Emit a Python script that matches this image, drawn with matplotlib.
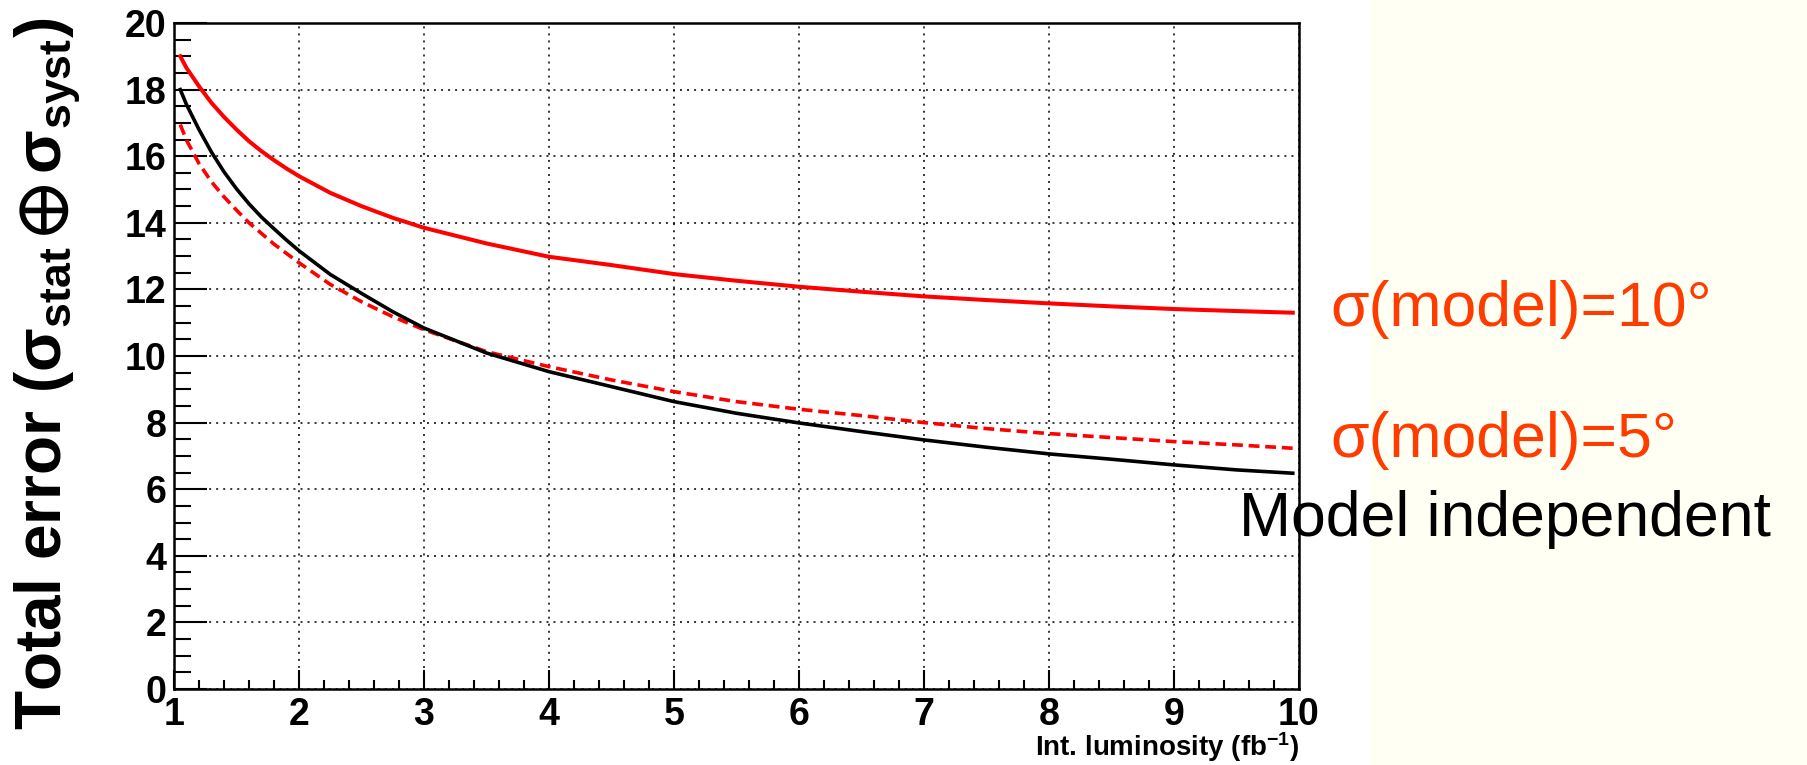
import matplotlib
matplotlib.use("Agg")
import matplotlib.pyplot as plt
from matplotlib.patches import Rectangle
from matplotlib.ticker import MultipleLocator

plt.rcParams['mathtext.fontset'] = 'custom'
plt.rcParams['mathtext.rm'] = 'Liberation Sans'
plt.rcParams['mathtext.bf'] = 'Liberation Sans:bold'
plt.rcParams['mathtext.it'] = 'Liberation Sans:italic'
plt.rcParams['mathtext.fallback'] = 'stixsans'

# ---- data ----
lumi = [1.05, 1.1, 1.2, 1.3, 1.4, 1.5, 1.6, 1.7, 1.8, 1.9, 2.0, 2.25, 2.5, 2.75, 3.0,
        3.5, 4.0, 4.5, 5.0, 5.5, 6.0, 6.5, 7.0, 7.5, 8.0, 8.5, 9.0, 9.5, 9.95]
err_model10 = [19.0, 18.65, 18.1, 17.6, 17.18, 16.8, 16.45, 16.15, 15.88, 15.63, 15.4,
               14.9, 14.5, 14.15, 13.85,
               13.38, 12.98, 12.73, 12.46, 12.26, 12.08, 11.93, 11.79, 11.68, 11.58,
               11.49, 11.41, 11.35, 11.30]
err_model5 = [16.95, 16.48, 15.78, 15.23, 14.78, 14.38, 14.0, 13.68, 13.36, 13.08, 12.8,
              12.15, 11.63, 11.18, 10.79,
              10.13, 9.68, 9.28, 8.93, 8.63, 8.40, 8.21, 8.0, 7.82, 7.67,
              7.55, 7.43, 7.33, 7.23]
err_indep = [18.0, 17.55, 16.8, 16.12, 15.53, 15.02, 14.57, 14.17, 13.82, 13.48, 13.16,
             12.45, 11.88, 11.33, 10.84,
             10.09, 9.53, 9.08, 8.63, 8.28, 7.99, 7.73, 7.48, 7.26, 7.06,
             6.90, 6.73, 6.58, 6.48]
x_ticks = [1, 2, 3, 4, 5, 6, 7, 8, 9, 10]
y_ticks = [0, 2, 4, 6, 8, 10, 12, 14, 16, 18, 20]
labels = ['σ(model)=10°', 'σ(model)=5°', 'Model independent']

W, H = 1807, 765
fig = plt.figure(figsize=(W / 100, H / 100), dpi=100)
fig.patch.set_facecolor('white')
# cream strip on the right
fig.patches.append(Rectangle((1370 / W, 0), 1 - 1370 / W, 1, transform=fig.transFigure,
                             facecolor='#FFFFF3', edgecolor='none', zorder=-10))

left, right, top, bottom = 174, 1299, 23, 689
ax = fig.add_axes([left / W, (H - bottom) / H, (right - left) / W, (bottom - top) / H])
ax.set_facecolor('white')

ax.plot(lumi, err_model10, color='#FF0000', lw=2.9, zorder=3)
ax.plot(lumi, err_model5, color='#FF0000', lw=2.6, ls=(0, (3.0, 1.6)), zorder=3)
ax.plot(lumi, err_indep, color='black', lw=2.6, zorder=3)

ax.set_xlim(1, 10)
ax.set_ylim(0, 20)
ax.set_xticks(x_ticks)
ax.set_yticks(y_ticks)
ax.xaxis.set_minor_locator(MultipleLocator(0.2))
ax.yaxis.set_minor_locator(MultipleLocator(0.5))

tick_font = dict(family='Liberation Sans', weight='bold', size=27)
ax.set_xticklabels([str(v) for v in x_ticks], fontdict=tick_font)
ax.set_yticklabels([str(v) for v in y_ticks], fontdict=tick_font)

ax.tick_params(axis='y', which='major', direction='in', length=23.8, width=1.5, pad=5.5)
ax.tick_params(axis='y', which='minor', direction='in', length=12, width=1.5)
ax.tick_params(axis='x', which='major', direction='in', length=13.7, width=1.5, pad=5.5)
ax.tick_params(axis='x', which='minor', direction='in', length=6.5, width=1.5)

for s in ax.spines.values():
    s.set_linewidth(1.8)
    s.set_color('black')

ax.grid(True, which='major', color='black', lw=1.1, ls=(0, (1.3, 3.3)))
ax.set_axisbelow(False)

# axis titles
fig.text(1299 / W, (H - 756) / H, 'Int. luminosity (fb$^{\\mathbf{-1}}$)',
         ha='right', va='baseline', family='Liberation Sans', weight='bold', size=20)

fig.text(62 / W, (H - 374) / H,
         r'Total error ($\mathbf{σ_{stat}}\,\mathbf{\oplus}\,\mathbf{σ_{syst}}$)',
         rotation=90, rotation_mode='anchor', ha='center', va='baseline',
         family=['Liberation Sans', 'DejaVu Sans'], weight='bold', size=46)

# right-hand annotations
orange = '#FF3C00'
fig.text(1330 / W, (H - 326) / H, labels[0], color=orange, ha='left', va='baseline',
         family=['Liberation Sans', 'DejaVu Sans'], size=45)
fig.text(1330 / W, (H - 457) / H, labels[1], color=orange, ha='left', va='baseline',
         family=['Liberation Sans', 'DejaVu Sans'], size=45)
fig.text(1239 / W, (H - 536) / H, labels[2], color='black', ha='left', va='baseline',
         family=['Liberation Sans', 'DejaVu Sans'], size=45)

fig.savefig('out.png', dpi=100, facecolor=fig.get_facecolor())
